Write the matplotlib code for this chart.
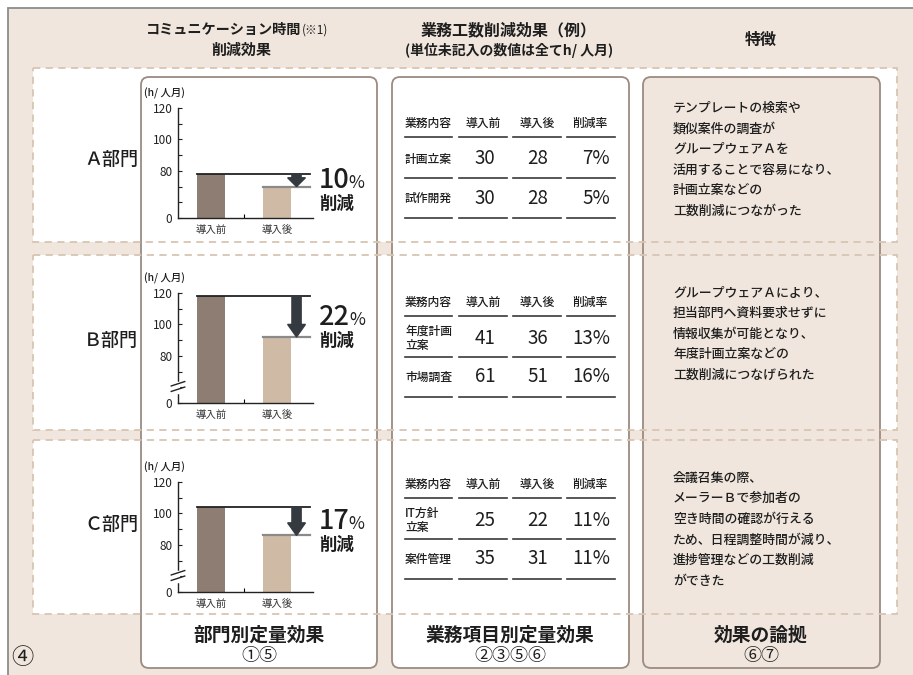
import matplotlib
matplotlib.use('Agg')
import matplotlib.pyplot as plt
import numpy as np
from matplotlib.patches import FancyBboxPatch, Rectangle, FancyArrow

plt.rcParams['font.family'] = ['Noto Sans CJK JP', 'DejaVu Sans']

# ---------------- data ----------------
departments = ['Ａ部門', 'Ｂ部門', 'Ｃ部門']
bar_categories = ['導入前', '導入後']
comm_before = [78, 118, 104]
comm_after = [70, 92, 86]
comm_reduction = ['10', '22', '17']
axis_unit = '(h/ 人月)'
y_major = [0, 80, 100, 120]
y_minor = [60, 70, 90, 110]
has_break = [False, True, True]

table_header = ['業務内容', '導入前', '導入後', '削減率']
task_names = [['計画立案', '試作開発'], ['年度計画\n立案', '市場調査'], ['IT方針\n立案', '案件管理']]
task_before = [[30, 30], [41, 61], [25, 35]]
task_after = [[28, 28], [36, 51], [22, 31]]
task_rate = [[7, 5], [13, 16], [11, 11]]

features = [
    ['テンプレートの検索や', '類似案件の調査が', 'グループウェアＡを',
     '活用することで容易になり、', '計画立案などの', '工数削減につながった'],
    ['グループウェアＡにより、', '担当部門へ資料要求せずに', '情報収集が可能となり、',
     '年度計画立案などの', '工数削減につなげられた'],
    ['会議召集の際、', 'メーラーＢで参加者の', '空き時間の確認が行える',
     'ため、日程調整時間が減り、', '進捗管理などの工数削減', 'ができた'],
]
col_titles = ['部門別定量効果', '業務項目別定量効果', '効果の論拠']
col_refs = ['①⑤', '②③⑤⑥', '⑥⑦']
corner_ref = '④'

# ---------------- style / layout ----------------
W, H = 913, 675
BEIGE = '#f0e6dd'
DASH = '#d8c5b2'
BOXEDGE = '#9c8b81'
TXT = '#1e1e1e'
C_BEFORE = '#8e7d72'
C_AFTER = '#cfbaa6'
ARROW = '#353a40'
MED = 'medium'

fig = plt.figure(figsize=(W / 100, H / 100), dpi=100)
fig.patch.set_facecolor('white')
bg = fig.add_axes([0, 0, 1, 1])
bg.set_xlim(0, W)
bg.set_ylim(H, 0)
bg.axis('off')

bg.add_patch(Rectangle((8, 8), W, H, facecolor=BEIGE, edgecolor='#8c8c8c', lw=1.3, zorder=0))

rows = [(68, 242), (255, 430), (440, 614)]
for y0, y1 in rows:
    bg.add_patch(Rectangle((33, y0), 897 - 33, y1 - y0, facecolor='white', edgecolor='none', zorder=1))

cols = [(141, 377, 'white'), (392, 629, 'white'), (643, 880, BEIGE)]
for x0, x1, fc in cols:
    bg.add_patch(FancyBboxPatch((x0, 77), x1 - x0, 668 - 77, boxstyle='round,pad=0,rounding_size=8',
                                facecolor=fc, edgecolor=BOXEDGE, lw=1.3, zorder=2))

for y0, y1 in rows:
    bg.add_patch(Rectangle((33, y0), 897 - 33, y1 - y0, fill=False, edgecolor=DASH, lw=1.3,
                           linestyle=(0, (4, 3)), zorder=3))

# headers
bg.text(301, 30, 'コミュニケーション時間', ha='right', va='center', fontsize=10.2, weight='bold', color=TXT, zorder=5)
bg.text(302, 30, '(※1)', ha='left', va='center', fontsize=8.5, color=TXT, zorder=5)
bg.text(241, 50, '削減効果', ha='center', va='center', fontsize=10.8, weight='bold', color=TXT, zorder=5)
bg.text(509, 30, '業務工数削減効果（例）', ha='center', va='center', fontsize=11.5, weight='bold', color=TXT, zorder=5)
bg.text(509, 50, '(単位未記入の数値は全てh/ 人月)', ha='center', va='center', fontsize=10, weight='bold', color=TXT, zorder=5)
bg.text(761, 40, '特徴', ha='center', va='center', fontsize=11.5, weight='bold', color=TXT, zorder=5)

# row labels
row_label_y = [160, 341, 525]
for lab, yy in zip(departments, row_label_y):
    bg.text(84, yy, lab, ha='left', va='center', fontsize=13, weight=MED, color=TXT, zorder=5)

# bottom labels
col_centers = [259, 510, 761]
for t, r, cx in zip(col_titles, col_refs, col_centers):
    bg.text(cx, 635, t, ha='center', va='center', fontsize=13.5, weight='bold', color=TXT, zorder=5)
    bg.text(cx, 656, r, ha='center', va='center', fontsize=13, color=TXT, zorder=5)
bg.text(22, 657, corner_ref, ha='center', va='center', fontsize=16, color=TXT, zorder=5)

# ---------------- bar charts ----------------
def fwd(v):
    v = np.asarray(v, dtype=float)
    return np.where(v >= 60, v, 50 + v / 6.0)

def inv(u):
    u = np.asarray(u, dtype=float)
    return np.where(u >= 60, u, (u - 50) * 6.0)

chart_top = [108, 293, 482]
ax_left, ax_w, ax_h = 178, 135, 110
pct_texts = []
for i in range(3):
    top = chart_top[i]
    ax = fig.add_axes([ax_left / W, 1 - (top + ax_h) / H, ax_w / W, ax_h / H])
    ax.set_facecolor('none')
    ax.set_yscale('function', functions=(fwd, inv))
    ax.set_ylim(0, 120)
    ax.set_xlim(-0.5, 1.55)
    b, a = comm_before[i], comm_after[i]
    ax.bar([0, 1], [b, a], width=0.42, color=[C_BEFORE, C_AFTER], zorder=2)
    ax.plot([-0.21, 1.5], [b, b], color='#222222', lw=1.3, zorder=3, clip_on=False)
    ax.plot([0.79, 1.5], [a, a], color='#8a8a8a', lw=1.6, zorder=3, clip_on=False)
    hl = min(8.0, 0.7 * (b - a))
    ax.add_patch(FancyArrow(1.30, b, 0, -(b - a), width=0.14, head_width=0.27, head_length=hl,
                            length_includes_head=True, color=ARROW, zorder=4, clip_on=False))
    for s in ['top', 'right']:
        ax.spines[s].set_visible(False)
    for s in ['left', 'bottom']:
        ax.spines[s].set_color('#222222')
        ax.spines[s].set_linewidth(1.0)
    ax.set_yticks(y_major)
    ax.set_yticklabels([str(v) for v in y_major])
    ax.set_yticks(y_minor, minor=True)
    ax.tick_params(axis='y', which='both', direction='in', length=3, width=0.8, labelsize=8.5,
                   colors='#222222', pad=4)
    ax.set_xticks([0, 1])
    ax.set_xticklabels(bar_categories)
    ax.set_xticks([0.5], minor=True)
    ax.tick_params(axis='x', which='major', length=0, labelsize=7.5, pad=5, colors='#333333')
    ax.tick_params(axis='x', which='minor', direction='in', length=3, width=0.8)
    if has_break[i]:
        tr = ax.transAxes
        ax.plot([0, 0], [0.10, 0.18], transform=tr, color='white', lw=2.5, clip_on=False, zorder=5)
        for yb in (0.105, 0.155):
            ax.plot([-0.05, 0.05], [yb, yb + 0.04], transform=tr, color='#222222', lw=1.0,
                    clip_on=False, zorder=6)
    ax.annotate(axis_unit, xy=(0, 1), xycoords='axes fraction', xytext=(-24.5, 10.5),
                textcoords='offset points', ha='left', va='center', fontsize=7.5, weight=MED, color=TXT)
    mid = (b + a) / 2
    t = ax.annotate(comm_reduction[i], xy=(1.64, mid), xycoords='data', xytext=(0, -5.8),
                    textcoords='offset points', ha='left', va='baseline', fontsize=19.5,
                    weight=MED, color=TXT, annotation_clip=False)
    ax.annotate('削減', xy=(1.64, mid), xycoords='data', xytext=(0, -17.3),
                textcoords='offset points', ha='left', va='center', fontsize=12.5,
                weight='bold', color=TXT, annotation_clip=False)
    pct_texts.append((ax, t, mid))

fig.canvas.draw()
renderer = fig.canvas.get_renderer()
for ax, t, mid in pct_texts:
    ext = t.get_window_extent(renderer)
    x1 = ext.x1
    _, yd = ax.transData.transform((1.64, mid))
    fig.text((x1 - 1) / W, (yd - 8) / H, '%', ha='left', va='baseline', fontsize=12.5, color=TXT)

# ---------------- tables ----------------
table_top = [123, 302, 484]
seg = [(405, 452), (459, 507), (513, 561), (567, 615)]
hdr_x = [405, 483, 537, 590]
for i in range(3):
    y0 = table_top[i]
    bg.text(hdr_x[0], y0, table_header[0], ha='left', va='center', fontsize=8.5, weight=MED, color=TXT, zorder=5)
    for k in range(1, 4):
        bg.text(hdr_x[k], y0, table_header[k], ha='center', va='center', fontsize=8.5, weight=MED,
                color=TXT, zorder=5)
    for ly in (y0 + 14, y0 + 55, y0 + 95):
        for sx0, sx1 in seg:
            bg.plot([sx0, sx1], [ly, ly], color='#3a3a3a', lw=1.2, zorder=5)
    for r, ry in enumerate((y0 + 36, y0 + 75)):
        bg.text(405, ry, task_names[i][r], ha='left', va='center', fontsize=8.5, weight=MED, color=TXT,
                linespacing=1.1, zorder=5)
        bg.text(485, ry, str(task_before[i][r]), ha='center', va='center', fontsize=13.5, color=TXT, zorder=5)
        bg.text(538, ry, str(task_after[i][r]), ha='center', va='center', fontsize=13.5, color=TXT, zorder=5)
        bg.text(610, ry, f'{task_rate[i][r]}%', ha='right', va='center', fontsize=13.5, color=TXT, zorder=5)

# ---------------- feature texts ----------------
feat_top = [108, 293, 478]
for i in range(3):
    for j, line in enumerate(features[i]):
        bg.text(673, feat_top[i] + j * 20.6, line, ha='left', va='center', fontsize=9.3,
                weight=MED, color=TXT, zorder=5)

fig.savefig('out.png', dpi=100, facecolor=fig.get_facecolor())
